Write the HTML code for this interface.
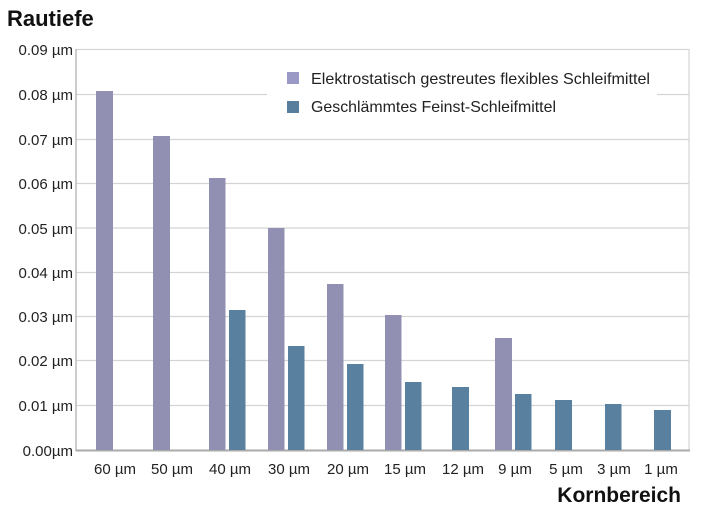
<!DOCTYPE html>
<html><head><meta charset="utf-8"><style>
body{margin:0;background:#fff;}
svg text{font-family:"Liberation Sans",sans-serif;fill:#222;}
</style></head><body>
<svg width="726" height="522" viewBox="0 0 726 522" xmlns="http://www.w3.org/2000/svg">
<rect width="726" height="522" fill="#fff"/>
<text x="7" y="26" style="font-weight:bold;font-size:22px;fill:#111">Rautiefe</text>
<g stroke="#d4d4d4" stroke-width="1.2">
<line x1="76" y1="49.5" x2="689" y2="49.5"/>
<line x1="76" y1="94.5" x2="267" y2="94.5"/>
<line x1="657" y1="94.5" x2="689" y2="94.5"/>
<line x1="76" y1="139.5" x2="689" y2="139.5"/>
<line x1="76" y1="183.5" x2="689" y2="183.5"/>
<line x1="76" y1="228" x2="689" y2="228"/>
<line x1="76" y1="272.5" x2="689" y2="272.5"/>
<line x1="76" y1="316.5" x2="689" y2="316.5"/>
<line x1="76" y1="360.5" x2="689" y2="360.5"/>
<line x1="76" y1="405.5" x2="689" y2="405.5"/>
<line x1="689" y1="49" x2="689" y2="450"/>
</g>
<line x1="76" y1="49" x2="76" y2="451" stroke="#bbb" stroke-width="1.5"/>
<line x1="76" y1="450.5" x2="690" y2="450.5" stroke="#aaa" stroke-width="2"/>
<g font-size="15" text-anchor="end">
<text x="73" y="55">0.09 µm</text>
<text x="73" y="100">0.08 µm</text>
<text x="73" y="145">0.07 µm</text>
<text x="73" y="189">0.06 µm</text>
<text x="73" y="234">0.05 µm</text>
<text x="73" y="278">0.04 µm</text>
<text x="73" y="322">0.03 µm</text>
<text x="73" y="366">0.02 µm</text>
<text x="73" y="411">0.01 µm</text>
<text x="73" y="456">0.00µm</text>
</g>
<g fill="#9190b3">
<rect x="96" y="91" width="17" height="359"/>
<rect x="153" y="136" width="17" height="314"/>
<rect x="209" y="178" width="16.5" height="272"/>
<rect x="268" y="228" width="16.5" height="222"/>
<rect x="327" y="284" width="16.5" height="166"/>
<rect x="385" y="315" width="16.5" height="135"/>
<rect x="495" y="338" width="17" height="112"/>
</g>
<g fill="#5a80a0">
<rect x="229" y="310" width="16.5" height="140"/>
<rect x="288" y="346" width="16.5" height="104"/>
<rect x="347" y="364" width="16.5" height="86"/>
<rect x="405" y="382" width="16.5" height="68"/>
<rect x="452" y="387" width="17" height="63"/>
<rect x="515" y="394" width="16.5" height="56"/>
<rect x="555" y="400" width="17" height="50"/>
<rect x="605" y="404" width="16.5" height="46"/>
<rect x="654" y="410" width="17" height="40"/>
</g>
<g font-size="15" text-anchor="middle">
<text x="115" y="474">60 µm</text>
<text x="172" y="474">50 µm</text>
<text x="230" y="474">40 µm</text>
<text x="289" y="474">30 µm</text>
<text x="348" y="474">20 µm</text>
<text x="405" y="474">15 µm</text>
<text x="463" y="474">12 µm</text>
<text x="515" y="474">9 µm</text>
<text x="566" y="474">5 µm</text>
<text x="614" y="474">3 µm</text>
<text x="661" y="474">1 µm</text>
</g>
<text x="681" y="502" text-anchor="end" style="font-weight:bold;font-size:21px;fill:#111">Kornbereich</text>
<rect x="287" y="72" width="12" height="12" fill="#9a98c4"/>
<rect x="287" y="101" width="12" height="12" fill="#587e9e"/>
<text x="311" y="84" font-size="16" textLength="339" lengthAdjust="spacingAndGlyphs">Elektrostatisch gestreutes flexibles Schleifmittel</text>
<text x="311" y="112" font-size="16" textLength="245" lengthAdjust="spacingAndGlyphs">Geschlämmtes Feinst-Schleifmittel</text>
</svg>
</body></html>
